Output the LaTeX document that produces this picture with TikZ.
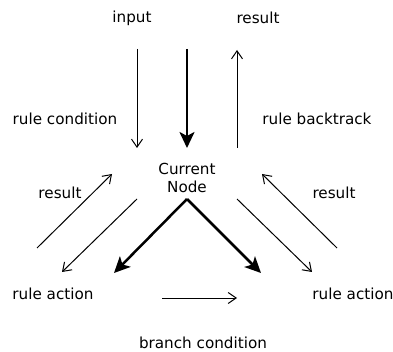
\documentclass[tikz,border=0pt]{standalone}
\usepackage{fontspec}
\setmainfont{DejaVu Sans}
\usetikzlibrary{arrows.meta}
\begin{document}
\begin{tikzpicture}[x=1pt,y=-1pt,
  lbl/.style={inner sep=0pt, font=\fontsize{15.2}{18.5}\selectfont, align=center},
  thin/.style={line width=1pt, -{Straight Barb[length=8pt,width=11pt,line width=1pt]}},
  thick/.style={line width=2.5pt, -{Stealth[length=16pt,width=15pt,inset=4pt]}}]
  \useasboundingbox (0,0) rectangle (393,352);
  % labels
  \node[lbl] (input) at (132,18) {input};
  \node[lbl] (resT) at (258,18) {result};
  \node[lbl] (rcond) at (65,119) {rule condition};
  \node[lbl] (rback) at (317,119) {rule backtrack};
  \node[lbl] (cur) at (187,178) {Current\\Node};
  \node[lbl] (resL) at (60,193) {result};
  \node[lbl] (resR) at (334,193) {result};
  \node[lbl] (actL) at (53,294) {rule action};
  \node[lbl] (actR) at (353,294) {rule action};
  \node[lbl] (bcond) at (203,343) {branch condition};
  % connector end points
  \coordinate (a1s) at (137,49);  \coordinate (a1e) at (137,148);
  \coordinate (a2s) at (187,49);  \coordinate (a2e) at (187,148);
  \coordinate (a3s) at (237,148); \coordinate (a3e) at (237,50);
  \coordinate (b1s) at (37,248);  \coordinate (b1e) at (112,174);
  \coordinate (b2s) at (137,199); \coordinate (b2e) at (62,272);
  \coordinate (apex) at (187,199);
  \coordinate (tl) at (114,273);  \coordinate (tr) at (261,273);
  \coordinate (c1s) at (237,199); \coordinate (c1e) at (312,272);
  \coordinate (c2s) at (337,248); \coordinate (c2e) at (262,174);
  \coordinate (ds) at (162,298);  \coordinate (de) at (237,298);
  % arrows
  \draw[thin] (a1s) -- (a1e);
  \draw[thick] (a2s) -- (a2e);
  \draw[thin] (a3s) -- (a3e);
  \draw[thin] (b1s) -- (b1e);
  \draw[thin] (b2s) -- (b2e);
  \draw[thick] (apex) -- (tl);
  \draw[thick] (apex) -- (tr);
  \draw[thin] (c1s) -- (c1e);
  \draw[thin] (c2s) -- (c2e);
  \draw[thin] (ds) -- (de);
\end{tikzpicture}
\end{document}
